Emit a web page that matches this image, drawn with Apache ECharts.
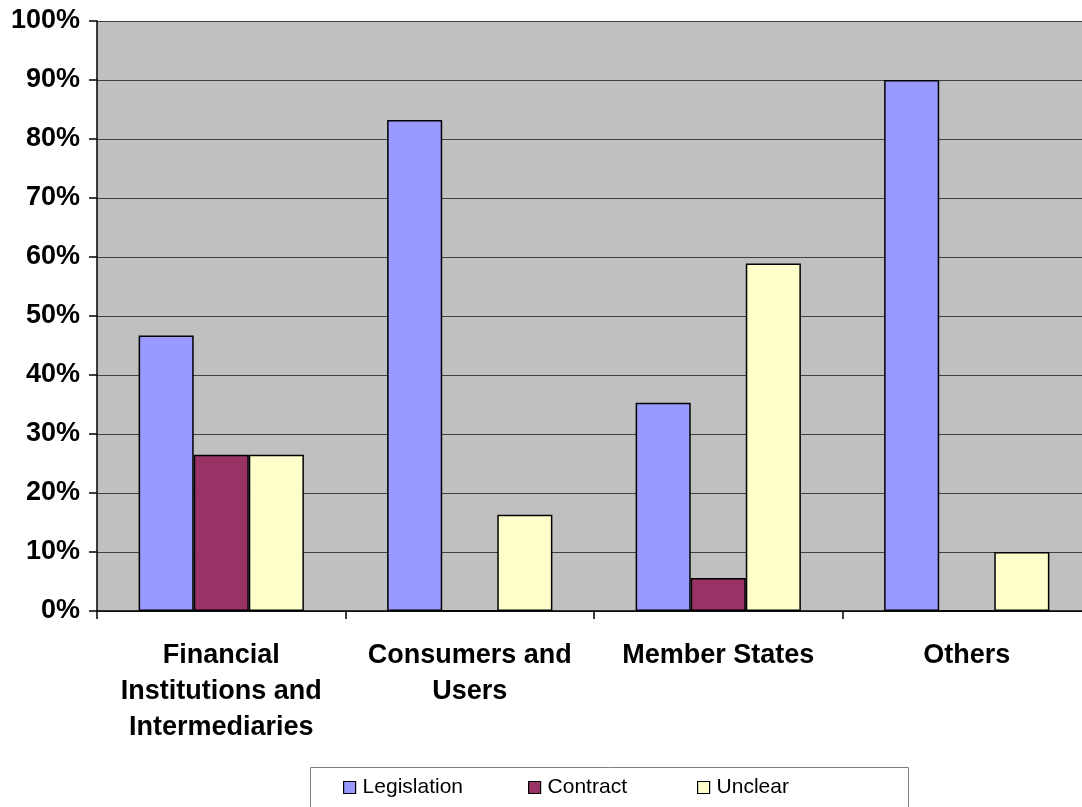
<!DOCTYPE html>
<html>
<head>
<meta charset="utf-8">
<script src="https://cdn.jsdelivr.net/npm/echarts@6/dist/echarts.min.js"></script>
<style>
  html, body { margin: 0; padding: 0; background: #ffffff; }
  #chart { width: 1082px; height: 807px; }
</style>
</head>
<body>
<div id="chart"></div>
<script>
// Stakeholder groups on the category axis
const categories = [
  'Financial\nInstitutions and\nIntermediaries',
  'Consumers and\nUsers',
  'Member States',
  'Others'
];
// Share of responses per group (percent)
const legislation = [46.7, 83.2, 35.3, 90.0];
const contract = [26.5, 0, 5.6, 0];
const unclear = [26.5, 16.3, 58.9, 10.0];
// Value-axis settings
const yMin = 0;
const yMax = 100;
const yStep = 10;

const chart = echarts.init(document.getElementById('chart'), null, { renderer: 'canvas' });

const font = 'Liberation Sans, Arial, sans-serif';
const barBorder = { borderColor: '#000000', borderWidth: 1.5 };

function legendFor(name, left) {
  return {
    data: [name],
    left: left,
    top: 777,
    orient: 'horizontal',
    icon: 'rect',
    itemWidth: 12,
    itemHeight: 12,
    itemStyle: { borderColor: '#000000', borderWidth: 1.2 },
    textStyle: { fontFamily: font, fontSize: 21, color: '#000000', padding: [0, 0, 0, 2] },
    padding: 0,
    selectedMode: false
  };
}

chart.setOption({
  animation: false,
  backgroundColor: '#ffffff',
  grid: {
    left: 97,
    top: 21,
    width: 994,
    height: 590,
    outerBoundsMode: 'none',
    containLabel: false,
    show: true,
    backgroundColor: '#c0c0c0',
    borderWidth: 0
  },
  graphic: [{
    type: 'rect',
    shape: { x: 310.5, y: 767.5, width: 598, height: 60 },
    style: { fill: '#ffffff', stroke: '#808080', lineWidth: 1 },
    z: 0
  }],
  legend: [
    legendFor('Legislation', 343),
    legendFor('Contract', 528),
    legendFor('Unclear', 697)
  ],
  xAxis: {
    type: 'category',
    data: categories,
    axisLine: { lineStyle: { color: '#000000', width: 1.5 } },
    axisTick: { show: true, alignWithLabel: false, length: 8, lineStyle: { color: '#000000', width: 1.5 } },
    axisLabel: {
      interval: 0,
      margin: 27,
      fontFamily: font,
      fontSize: 27,
      fontWeight: 'bold',
      color: '#000000',
      lineHeight: 36,
      align: 'center'
    },
    splitLine: { show: false }
  },
  yAxis: {
    type: 'value',
    min: yMin,
    max: yMax,
    interval: yStep,
    axisLine: { show: true, lineStyle: { color: '#000000', width: 1.5 } },
    axisTick: { show: true, length: 8, lineStyle: { color: '#000000', width: 1.5 } },
    axisLabel: {
      formatter: '{value}%',
      margin: 17,
      fontFamily: font,
      fontSize: 27,
      fontWeight: 'bold',
      color: '#000000'
    },
    splitLine: { show: true, lineStyle: { color: '#404040', width: 1.2 } }
  },
  series: [
    {
      name: 'Legislation', type: 'bar', data: legislation,
      barGap: '0%', barCategoryGap: '33.5%',
      itemStyle: Object.assign({ color: '#9999ff' }, barBorder)
    },
    {
      name: 'Contract', type: 'bar', data: contract,
      barGap: '0%', barCategoryGap: '33.5%',
      itemStyle: Object.assign({ color: '#993366' }, barBorder)
    },
    {
      name: 'Unclear', type: 'bar', data: unclear,
      barGap: '0%', barCategoryGap: '33.5%',
      itemStyle: Object.assign({ color: '#ffffcc' }, barBorder)
    }
  ]
});
</script>
</body>
</html>
